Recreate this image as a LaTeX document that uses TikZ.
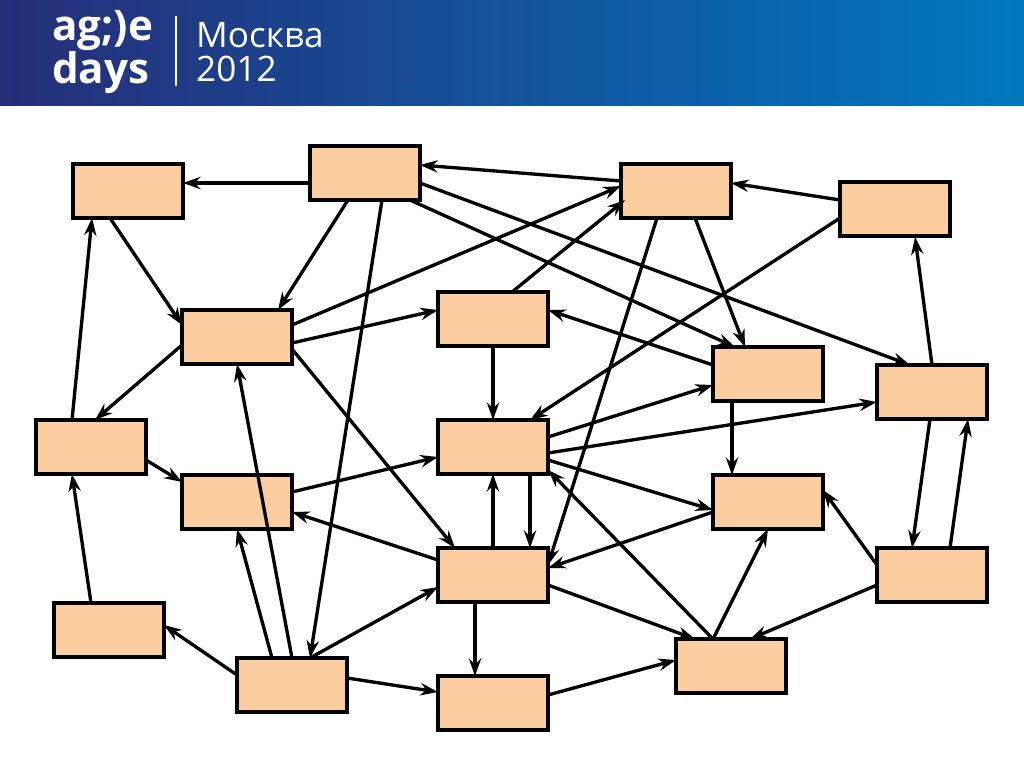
\documentclass[tikz,border=0pt]{standalone}
\usepackage{fontspec}
\setmainfont{Open Sans}
\usetikzlibrary{arrows.meta}
\definecolor{peach}{RGB}{252,205,158}
\definecolor{navy}{RGB}{38,46,120}
\definecolor{bluer}{RGB}{0,120,190}
\newcommand{\pp}[3]{([shift={(#2,#3)}]#1.center)}
\begin{document}
\begin{tikzpicture}[x=0.02cm,y=-0.02cm,
  bx/.style={draw=black,line width=2.2pt,fill=peach,minimum width=2.2cm,minimum height=1.08cm,inner sep=0pt},
  ar/.style={-{Stealth[length=10pt,width=7pt]},line width=1.9pt}]
\useasboundingbox (0,0) rectangle (1024,768);
\shade[left color=navy,right color=bluer] (0,0) rectangle (1024,105);
\node[anchor=west,text=white,font=\bfseries\fontsize{24}{19}\selectfont,align=left] (logo) at (46,52) {ag;)e\\days};
\draw[white,line width=1pt] (176,16) -- (176,86);
\node[anchor=west,text=white,font=\fontsize{20}{19}\selectfont,align=left] (city) at (190,52) {Москва\\2012};
\node[bx] (A) at (128,191) {};
\node[bx] (B) at (365,173) {};
\node[bx] (C) at (676,191) {};
\node[bx] (D) at (895,209) {};
\node[bx] (E) at (237,337) {};
\node[bx] (F) at (493,319) {};
\node[bx] (G) at (768,374) {};
\node[bx] (H) at (932,392) {};
\node[bx] (I) at (91,447) {};
\node[bx] (J) at (493,447) {};
\node[bx] (K) at (237,502) {};
\node[bx] (L) at (768,502) {};
\node[bx] (M) at (493,575) {};
\node[bx] (N) at (932,575) {};
\node[bx] (O) at (109,630) {};
\node[bx] (P) at (292,685) {};
\node[bx] (Q) at (493,703) {};
\node[bx] (R) at (731,666) {};
\draw[ar] \pp{B}{-55}{10} -- \pp{A}{55}{-8};
\draw[ar] \pp{B}{-17}{27} -- \pp{E}{41}{-27};
\draw[ar] \pp{B}{55}{10} -- \pp{H}{-22}{-27};
\draw[ar] \pp{B}{45}{27} -- \pp{G}{-33}{-27};
\draw[ar] \pp{B}{17}{27} -- \pp{P}{18}{-27};
\draw[ar] \pp{C}{-55}{-10} -- \pp{B}{55}{-8};
\draw[ar] \pp{A}{-18}{27} -- \pp{E}{-55}{-12};
\draw[ar] \pp{I}{-19}{-27} -- \pp{A}{-36}{27};
\draw[ar] \pp{E}{-55}{8} -- \pp{I}{4}{-27};
\draw[ar] \pp{E}{55}{-12} -- \pp{C}{-55}{-5};
\draw[ar] \pp{E}{55}{6} -- \pp{F}{-55}{-9};
\draw[ar] \pp{E}{55}{12} -- \pp{M}{-38}{-27};
\draw[ar] \pp{F}{19}{-27} -- \pp{C}{-51}{9};
\draw[ar] \pp{G}{-55}{-9} -- \pp{F}{55}{-9};
\draw[ar] \pp{F}{0}{27} -- \pp{J}{0}{-27};
\draw[ar] \pp{C}{19}{27} -- \pp{G}{-23}{-27};
\draw[ar] \pp{C}{-19}{27} -- \pp{M}{55}{-10};
\draw[ar] \pp{D}{-55}{-9} -- \pp{C}{55}{-8};
\draw[ar] \pp{D}{-55}{9} -- \pp{J}{37}{-27};
\draw[ar] \pp{H}{0}{-27} -- \pp{D}{20}{28};
\draw[ar] \pp{H}{-2}{27} -- \pp{N}{-20}{-27};
\draw[ar] \pp{N}{18}{-27} -- \pp{H}{36}{27};
\draw[ar] \pp{J}{55}{-10} -- \pp{G}{-55}{11};
\draw[ar] \pp{J}{55}{6} -- \pp{H}{-55}{10};
\draw[ar] \pp{J}{55}{13} -- \pp{L}{-55}{8};
\draw[ar] \pp{G}{-36}{27} -- \pp{L}{-36}{-27};
\draw[ar] \pp{M}{0}{-27} -- \pp{J}{0}{27};
\draw[ar] \pp{J}{37}{27} -- \pp{M}{37}{-27};
\draw[ar] \pp{K}{55}{-10} -- \pp{J}{-55}{10};
\draw[ar] \pp{I}{55}{13} -- \pp{K}{-55}{-20};
\draw[ar] \pp{M}{-55}{-15} -- \pp{K}{55}{10};
\draw[ar] \pp{L}{-55}{10} -- \pp{M}{55}{-7};
\draw[ar] \pp{N}{-55}{-10} -- \pp{L}{55}{-12};
\draw[ar] \pp{N}{-55}{10} -- \pp{R}{19}{-27};
\draw[ar] \pp{R}{-18}{-27} -- \pp{L}{0}{27};
\draw[ar] \pp{R}{-18}{-27} -- \pp{J}{55}{23};
\draw[ar] \pp{M}{55}{10} -- \pp{R}{-36}{-27};
\draw[ar] \pp{M}{-18}{27} -- \pp{Q}{-18}{-27};
\draw[ar] \pp{Q}{55}{-8} -- \pp{R}{-55}{-6};
\draw[ar] \pp{P}{55}{-7} -- \pp{Q}{-55}{-11};
\draw[ar] \pp{P}{18}{-27} -- \pp{M}{-55}{12};
\draw[ar] \pp{P}{-55}{-10} -- \pp{O}{55}{-5};
\draw[ar] \pp{O}{-18}{-27} -- \pp{I}{-19}{27};
\draw[ar] \pp{P}{-20}{-27} -- \pp{K}{0}{27};
\draw[ar] \pp{P}{0}{-27} -- \pp{E}{0}{27};
\end{tikzpicture}
\end{document}
